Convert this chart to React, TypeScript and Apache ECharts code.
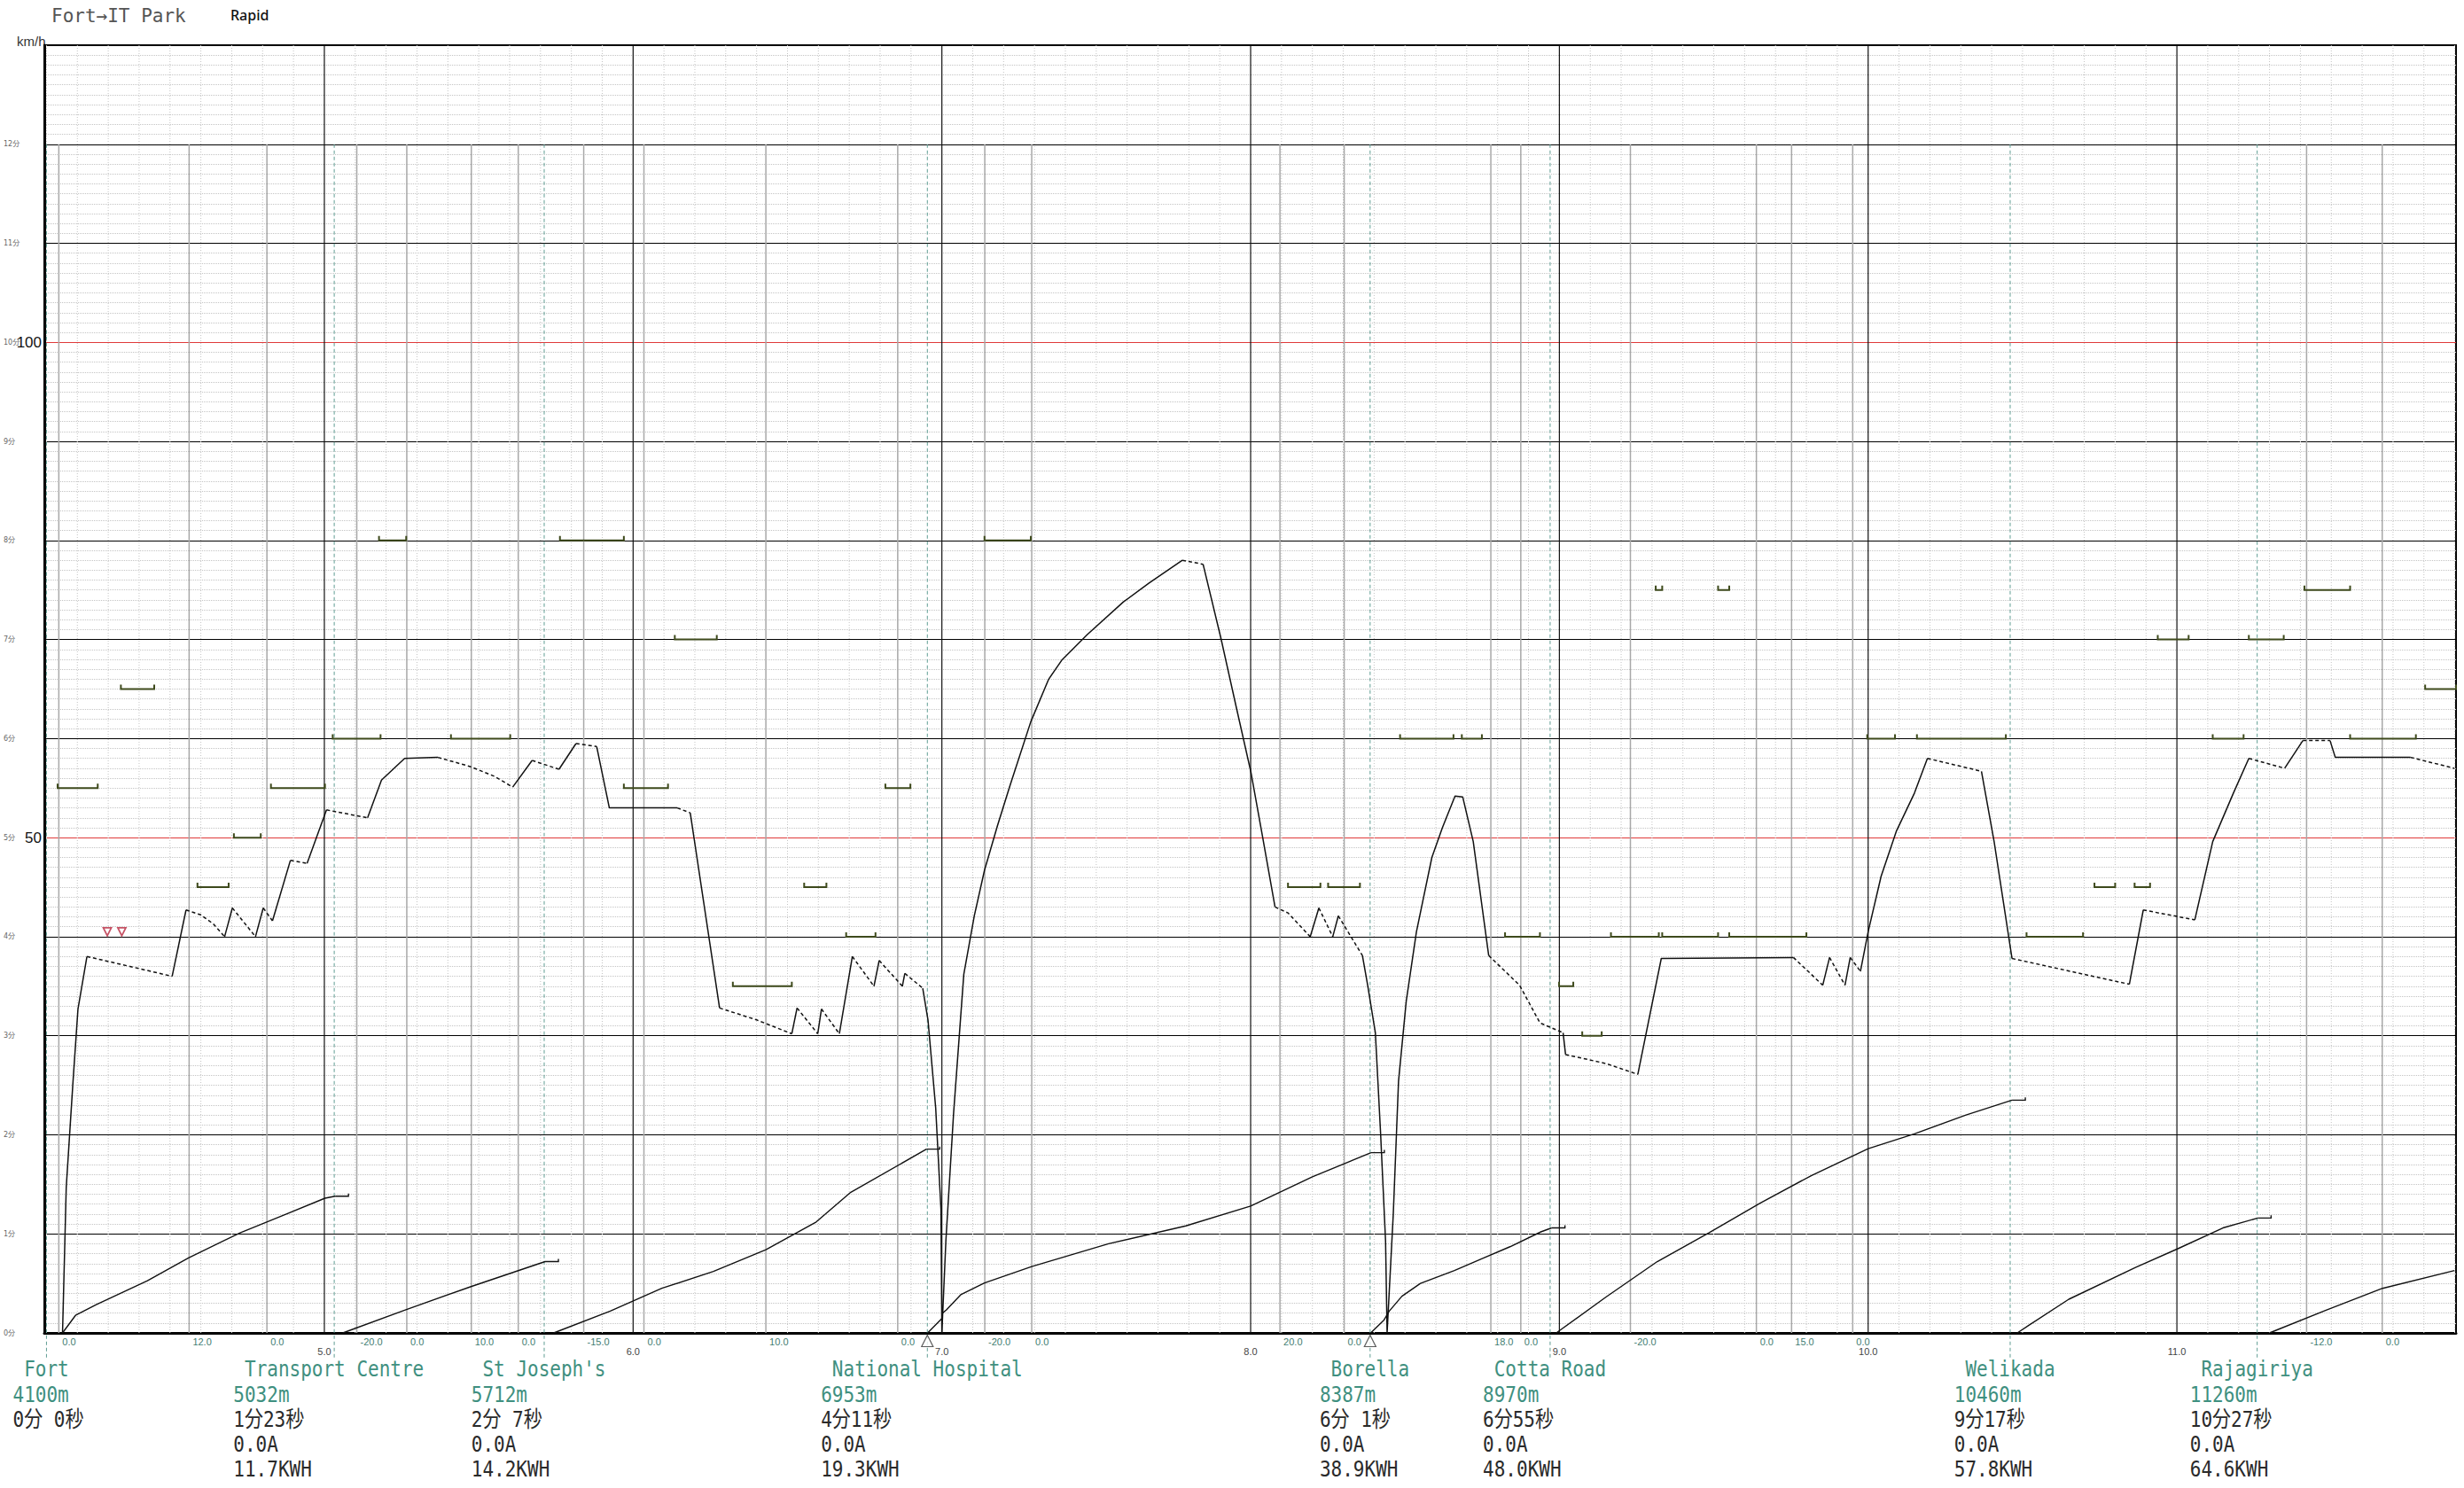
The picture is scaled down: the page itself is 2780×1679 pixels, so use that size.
import React, { useEffect, useRef } from "react";
import * as echarts from "echarts";

// ---------- axis ranges ----------
const X_MIN = 4.093;
const X_MAX = 11.904;
const SPEED_MAX = 130;
const TIME_MAX = 13;
const speedTicks = [0, 10, 20, 30, 40, 50, 60, 70, 80, 90, 100, 110, 120, 130];
const kmTicks = [5, 6, 7, 8, 9, 10, 11];
const kmTickLabels = ["5.0", "6.0", "7.0", "8.0", "9.0", "10.0", "11.0"];

// ---------- stations ----------
const stationNames = ["Fort", "Transport Centre", "St Joseph's", "National Hospital", "Borella", "Cotta Road", "Welikada", "Rajagiriya"];
const stationKm = [4.1, 5.032, 5.712, 6.953, 8.387, 8.97, 10.46, 11.26];
const stationDist = ["4100m", "5032m", "5712m", "6953m", "8387m", "8970m", "10460m", "11260m"];
const stationTime = ["0分 0秒", "1分23秒", "2分 7秒", "4分11秒", "6分 1秒", "6分55秒", "9分17秒", "10分27秒"];
const stationCurrent = ["", "0.0A", "0.0A", "0.0A", "0.0A", "0.0A", "0.0A", "0.0A"];
const stationEnergy = ["", "11.7KWH", "14.2KWH", "19.3KWH", "38.9KWH", "48.0KWH", "57.8KWH", "64.6KWH"];
const stopKm = [6.953, 8.387];

// ---------- gradients ----------
const gradeKm = [4.14, 4.562, 4.814, 5.105, 5.267, 5.476, 5.628, 5.84, 6.035, 6.43, 6.857, 7.139, 7.291, 8.095, 8.303, 8.778, 8.875, 9.23, 9.638, 9.752, 9.95, 11.42, 11.665];
const gradeLabels = ["0.0", "12.0", "0.0", "-20.0", "0.0", "10.0", "0.0", "-15.0", "0.0", "10.0", "0.0", "-20.0", "0.0", "20.0", "0.0", "18.0", "0.0", "-20.0", "0.0", "15.0", "0.0", "-12.0", "0.0"];

// ---------- speed limits ----------
const limitFrom = [4.136, 4.341, 4.589, 4.707, 4.827, 5.027, 5.177, 5.41, 5.763, 5.97, 6.135, 6.323, 6.554, 6.69, 6.817, 7.138, 8.121, 8.251, 8.484, 8.684, 8.824, 8.999, 9.074, 9.167, 9.312, 9.333, 9.514, 9.55, 9.997, 10.158, 10.513, 10.733, 10.863, 10.938, 11.116, 11.233, 11.413, 11.561, 11.804];
const limitTo = [4.266, 4.449, 4.69, 4.794, 5.002, 5.182, 5.265, 5.602, 5.97, 6.113, 6.271, 6.514, 6.626, 6.785, 6.898, 7.288, 8.226, 8.354, 8.657, 8.749, 8.937, 9.045, 9.137, 9.322, 9.333, 9.514, 9.55, 9.8, 10.087, 10.446, 10.696, 10.8, 10.913, 11.038, 11.216, 11.346, 11.561, 11.774, 11.904];
const limitSpeed = [55, 65, 45, 50, 55, 60, 80, 60, 80, 55, 70, 35, 45, 40, 55, 80, 45, 45, 60, 60, 40, 35, 30, 40, 75, 40, 75, 40, 60, 60, 40, 45, 45, 70, 60, 70, 75, 60, 65];

// ---------- speed profile: [km, km/h, mode of segment ending here: S solid / D dashed(coast)] ----------
const speedProfile: [number, number, string][] = [
  [4.152, 0, "S"], [4.164, 14.7, "S"], [4.186, 25.4, "S"], [4.202, 32.7, "S"], [4.231, 38.0, "S"],
  [4.37, 37.0, "D"], [4.507, 36.0, "D"],
  [4.552, 42.7, "S"], [4.6, 42.2, "D"], [4.64, 41.3, "D"], [4.677, 40.0, "D"],
  [4.702, 42.9, "S"], [4.777, 40.0, "D"],
  [4.802, 42.9, "S"], [4.832, 41.6, "D"],
  [4.89, 47.7, "S"], [4.944, 47.4, "D"],
  [5.007, 52.8, "S"], [5.14, 52.0, "D"],
  [5.185, 55.8, "S"], [5.26, 58.0, "S"], [5.368, 58.1, "S"],
  [5.47, 57.2, "D"], [5.55, 56.2, "D"], [5.61, 55.1, "D"],
  [5.673, 57.8, "S"], [5.76, 56.9, "D"],
  [5.815, 59.5, "S"], [5.882, 59.2, "D"],
  [5.923, 53.0, "S"], [6.143, 53.0, "S"], [6.185, 52.5, "D"],
  [6.28, 32.8, "S"], [6.4, 31.6, "D"], [6.514, 30.2, "D"],
  [6.531, 32.8, "S"], [6.598, 30.2, "D"],
  [6.61, 32.7, "S"], [6.668, 30.2, "D"],
  [6.71, 38.0, "S"], [6.78, 35.0, "D"],
  [6.797, 37.6, "S"], [6.872, 35.0, "D"],
  [6.88, 36.3, "S"], [6.938, 34.8, "D"],
  [6.955, 31.6, "S"], [6.98, 22.7, "S"], [6.997, 12.5, "S"], [7.0, 0, "S"],
  [7.013, 9.3, "S"], [7.038, 22.2, "S"], [7.071, 36.2, "S"], [7.105, 42.1, "S"], [7.138, 46.7, "S"], [7.18, 51.2, "S"],
  [7.221, 55.3, "S"], [7.288, 61.7, "S"], [7.346, 66.0, "S"], [7.388, 67.9, "S"], [7.471, 70.5, "S"], [7.588, 73.8, "S"],
  [7.671, 75.7, "S"], [7.779, 78.0, "S"], [7.846, 77.6, "D"],
  [7.904, 70.1, "S"], [7.954, 63.1, "S"], [8.001, 56.6, "S"], [8.038, 50.2, "S"], [8.079, 43.0, "S"],
  [8.121, 42.4, "D"], [8.193, 40.0, "D"],
  [8.221, 42.9, "S"], [8.266, 40.0, "D"],
  [8.284, 42.1, "S"], [8.362, 38.1, "D"],
  [8.379, 35.1, "S"], [8.404, 30.3, "S"], [8.421, 20.1, "S"], [8.437, 9.3, "S"], [8.442, 0, "S"],
  [8.462, 12.0, "S"], [8.479, 25.4, "S"], [8.504, 33.5, "S"], [8.537, 40.5, "S"], [8.587, 48.0, "S"], [8.621, 51.0, "S"],
  [8.662, 54.2, "S"], [8.687, 54.1, "S"],
  [8.721, 49.6, "S"], [8.771, 38.1, "S"],
  [8.871, 35.1, "D"], [8.937, 31.3, "D"], [9.012, 30.3, "D"],
  [9.02, 28.1, "S"],
  [9.15, 27.2, "D"], [9.254, 26.1, "D"],
  [9.33, 37.8, "S"], [9.758, 37.9, "S"],
  [9.853, 35.1, "D"], [9.875, 37.9, "S"], [9.925, 35.1, "D"], [9.942, 37.9, "S"], [9.975, 36.5, "D"],
  [10.0, 40.5, "S"], [10.042, 46.1, "S"], [10.092, 50.7, "S"], [10.15, 54.5, "S"], [10.192, 58.0, "S"],
  [10.367, 56.7, "D"],
  [10.408, 49.6, "S"], [10.466, 37.8, "S"],
  [10.758, 35.8, "D"], [10.846, 35.2, "D"],
  [10.891, 42.7, "S"], [11.058, 41.7, "D"],
  [11.116, 49.6, "S"], [11.183, 54.5, "S"], [11.233, 58.0, "S"],
  [11.349, 57.0, "D"],
  [11.408, 59.8, "S"], [11.496, 59.8, "D"],
  [11.513, 58.1, "S"], [11.757, 58.1, "S"],
  [11.899, 57.0, "D"],
];

// ---------- running time between stations (minutes) ----------
const timeSegKm = [
  [4.152, 4.194, 4.261, 4.427, 4.56, 4.727, 4.877, 5.002, 5.035],
  [5.06, 5.26, 5.477, 5.715],
  [5.743, 5.926, 6.093, 6.26, 6.43, 6.593, 6.705, 6.95],
  [6.954, 7.0, 7.002, 7.014, 7.061, 7.138, 7.291, 7.54, 7.79, 8.0, 8.2, 8.39],
  [8.389, 8.432, 8.449, 8.49, 8.55, 8.66, 8.75, 8.84, 8.94, 8.975],
  [8.99, 9.15, 9.317, 9.484, 9.65, 9.817, 10.0, 10.15, 10.317, 10.466],
  [10.483, 10.65, 10.866, 11.003, 11.149, 11.262],
  [11.3, 11.483, 11.666, 11.899],
];
const timeSegMin = [
  [0, 0.177, 0.285, 0.527, 0.758, 1.01, 1.2, 1.36, 1.38],
  [0, 0.23, 0.47, 0.72],
  [0, 0.22, 0.45, 0.62, 0.84, 1.12, 1.42, 1.855],
  [0, 0.146, 0.2, 0.23, 0.385, 0.505, 0.67, 0.9, 1.08, 1.28, 1.575, 1.82],
  [0, 0.13, 0.22, 0.37, 0.5, 0.63, 0.75, 0.87, 1.02, 1.06],
  [0, 0.36, 0.72, 1.01, 1.31, 1.59, 1.86, 2.01, 2.2, 2.35],
  [0, 0.34, 0.66, 0.85, 1.06, 1.16],
  [0, 0.23, 0.45, 0.63],
];

// ---------- notch markers ----------
const notchKm = [4.297, 4.344];
const notchKmh = [40.5, 40.5];

const MONO = '"DejaVu Sans Mono", "Noto Sans CJK JP", monospace';
const TEAL = "#3f9080";

function buildSpeedRuns() {
  const runs: { mode: string; pts: number[][] }[] = [];
  for (let i = 1; i < speedProfile.length; i++) {
    const [k0, v0] = speedProfile[i - 1];
    const [k1, v1, m] = speedProfile[i];
    const last = runs[runs.length - 1];
    if (last && last.mode === m) last.pts.push([k1, v1]);
    else runs.push({ mode: m, pts: [[k0, v0], [k1, v1]] });
  }
  return runs;
}

function buildOption() {
  const minorKm: number[][] = [];
  for (let i = 41; i <= 119; i++) if (i % 10 !== 0) minorKm.push([i / 10, 0]);

  const speedRuns = buildSpeedRuns().map((r) => ({
    type: "line",
    data: r.pts,
    showSymbol: false,
    symbol: "none",
    silent: true,
    z: 6,
    lineStyle: { color: "#111", width: 1.5, type: r.mode === "D" ? [4, 3] : "solid" },
  }));

  const timeSeries = timeSegKm.map((ks, i) => ({
    type: "line",
    yAxisIndex: 1,
    data: ks.map((k, j) => [k, timeSegMin[i][j]]),
    showSymbol: false,
    symbol: "none",
    silent: true,
    z: 6,
    lineStyle: { color: "#111", width: 1.4 },
  }));

  const cw = 21 * 0.602;

  return {
    animation: false,
    backgroundColor: "#fff",
    grid: { left: 50, top: 51, width: 2721, height: 1453, show: true, borderColor: "#000", borderWidth: 2, backgroundColor: "#fff" },
    xAxis: {
      type: "value",
      min: X_MIN,
      max: X_MAX,
      axisLine: { show: true, onZero: false, lineStyle: { color: "#000", width: 3 } },
      axisTick: { show: false },
      axisLabel: { show: false },
      splitLine: { show: false },
    },
    yAxis: [
      {
        type: "value",
        min: 0,
        max: SPEED_MAX,
        interval: 10,
        axisLine: { show: true, lineStyle: { color: "#000", width: 3 } },
        axisTick: { show: false },
        axisLabel: {
          show: true,
          margin: 3,
          formatter: (v: number) => (v === 100 || v === 50 ? String(v) : ""),
          fontSize: 17,
          color: "#111",
          fontFamily: "Liberation Sans",
        },
        splitLine: {
          show: true,
          lineStyle: { color: speedTicks.map((v) => (v === 50 || v === 100 ? "#e03a3a" : "#000")), width: 1.2 },
        },
        minorTick: { show: false, splitNumber: 10 },
        minorSplitLine: { show: true, lineStyle: { color: "#c4c4c4", type: "dotted", width: 1 } },
      },
      {
        type: "value",
        min: 0,
        max: TIME_MAX,
        interval: 1,
        position: "left",
        axisLine: { show: false },
        axisTick: { show: false },
        splitLine: { show: false },
        axisLabel: {
          show: true,
          align: "left",
          margin: 46,
          fontSize: 8,
          color: "#666",
          fontFamily: '"DejaVu Sans", "Noto Sans CJK JP"',
          formatter: (v: number) => (v <= 12 ? `${v}分` : ""),
        },
      },
    ],
    graphic: [
      { type: "text", left: 58, top: 7, style: { text: "Fort→IT Park", font: `21px ${MONO}`, fill: "#555" } },
      { type: "text", left: 260, top: 9, style: { text: "Rapid", font: '500 16px "Noto Sans"', fill: "#111" } },
      { type: "text", left: 19, top: 39, style: { text: "km/h", font: '15px "Liberation Sans"', fill: "#333" } },
    ],
    series: [
      // minor vertical grid (0.1 km)
      {
        type: "custom",
        silent: true,
        z: 1,
        data: minorKm,
        renderItem: (_p: any, api: any) => {
          const a = api.coord([api.value(0), SPEED_MAX]);
          const b = api.coord([api.value(0), 0]);
          return { type: "line", shape: { x1: a[0], y1: a[1], x2: b[0], y2: b[1] }, style: { stroke: "#c4c4c4", lineWidth: 1, lineDash: [1, 2] } };
        },
      },
      // gradient change lines with labels
      {
        type: "custom",
        silent: true,
        z: 2,
        data: gradeKm.map((k) => [k, 0]),
        renderItem: (p: any, api: any) => {
          const a = api.coord([api.value(0), 120]);
          const b = api.coord([api.value(0), 0]);
          return {
            type: "group",
            children: [
              { type: "line", shape: { x1: a[0], y1: a[1], x2: b[0], y2: b[1] }, style: { stroke: "#a8a8a8", lineWidth: 1.5 } },
              {
                type: "text",
                style: { x: b[0] + 4, y: b[1] + 10, text: gradeLabels[p.dataIndex], fill: "#3f7d72", fontSize: 11, fontFamily: "Liberation Sans", align: "left", verticalAlign: "middle" },
              },
            ],
          };
        },
      },
      // major km lines + km labels
      {
        type: "custom",
        silent: true,
        z: 2,
        data: kmTicks.map((k) => [k, 0]),
        renderItem: (p: any, api: any) => {
          const a = api.coord([api.value(0), SPEED_MAX]);
          const b = api.coord([api.value(0), 0]);
          return {
            type: "group",
            children: [
              { type: "line", shape: { x1: a[0], y1: a[1], x2: b[0], y2: b[1] }, style: { stroke: "#111", lineWidth: 1.2 } },
              {
                type: "text",
                style: { x: b[0], y: b[1] + 21, text: kmTickLabels[p.dataIndex], fill: "#444", fontSize: 11, fontFamily: "Liberation Sans", align: "center", verticalAlign: "middle" },
              },
            ],
          };
        },
      },
      // station dashed lines + station text blocks
      {
        type: "custom",
        silent: true,
        z: 3,
        data: stationKm.map((k) => [k, 0]),
        renderItem: (p: any, api: any) => {
          const i = p.dataIndex;
          const a = api.coord([api.value(0), 120]);
          const b = api.coord([api.value(0), 0]);
          const x = b[0];
          const name = stationNames[i];
          const left = x - (name.length * cw) / 2 - cw;
          const txt = (t: string, xx: number, yy: number, fill: string, align: string) => ({
            type: "text",
            x: xx,
            y: yy,
            scaleY: 1.2,
            style: { x: 0, y: 0, text: t, fill, fontSize: 21, fontFamily: MONO, align, verticalAlign: "middle" },
          });
          return {
            type: "group",
            children: [
              { type: "line", shape: { x1: a[0], y1: a[1], x2: b[0], y2: b[1] + 28 }, style: { stroke: "#5f9d93", lineWidth: 1, lineDash: [4, 3] } },
              txt(name, x, b[1] + 40, TEAL, "center"),
              txt(stationDist[i], left, b[1] + 69, TEAL, "left"),
              txt(stationTime[i], left, b[1] + 97, "#2a2a2a", "left"),
              txt(stationCurrent[i], left, b[1] + 125, "#2a2a2a", "left"),
              txt(stationEnergy[i], left, b[1] + 153, "#2a2a2a", "left"),
            ],
          };
        },
      },
      // speed limit markers
      {
        type: "custom",
        silent: true,
        z: 4,
        data: limitFrom.map((k, i) => [k, limitSpeed[i]]),
        renderItem: (p: any, api: any) => {
          const i = p.dataIndex;
          const a = api.coord([limitFrom[i], limitSpeed[i]]);
          const b = api.coord([limitTo[i], limitSpeed[i]]);
          return {
            type: "polyline",
            shape: { points: [[a[0], a[1] - 5], [a[0], a[1]], [b[0], b[1]], [b[0], b[1] - 5]] },
            style: { stroke: "#3e4a1c", lineWidth: 2, fill: null },
          };
        },
      },
      // time curve end ticks
      {
        type: "custom",
        silent: true,
        z: 6,
        yAxisIndex: 1,
        data: timeSegKm.slice(0, 7).map((ks, i) => [ks[ks.length - 1], timeSegMin[i][timeSegMin[i].length - 1]]),
        renderItem: (_p: any, api: any) => {
          const a = api.coord([api.value(0), api.value(1)]);
          return {
            type: "polyline",
            shape: { points: [[a[0], a[1]], [a[0] + 15, a[1]], [a[0] + 15, a[1] - 3]] },
            style: { stroke: "#111", lineWidth: 1.4, fill: null },
          };
        },
      },
      ...speedRuns,
      ...timeSeries,
      // notch markers
      {
        type: "scatter",
        silent: true,
        z: 7,
        data: notchKm.map((k, i) => [k, notchKmh[i]]),
        symbol: "triangle",
        symbolRotate: 180,
        symbolSize: 9,
        itemStyle: { color: "#fff", borderColor: "#b8283e", borderWidth: 1.8 },
      },
      // stop markers under the axis
      {
        type: "scatter",
        silent: true,
        clip: false,
        z: 7,
        data: stopKm.map((k) => [k, 0]),
        symbol: "triangle",
        symbolSize: 13,
        symbolOffset: [0, 9],
        itemStyle: { color: "#fff", borderColor: "#333", borderWidth: 1.2 },
      },
    ],
  };
}

export default function App() {
  const ref = useRef<HTMLDivElement>(null);
  useEffect(() => {
    const chart = echarts.init(ref.current as HTMLDivElement, null, { renderer: "svg" });
    chart.setOption(buildOption() as any);
    return () => chart.dispose();
  }, []);
  return <div ref={ref} style={{ position: "absolute", left: 0, top: 0, width: 2780, height: 1679, background: "#fff" }} />;
}
